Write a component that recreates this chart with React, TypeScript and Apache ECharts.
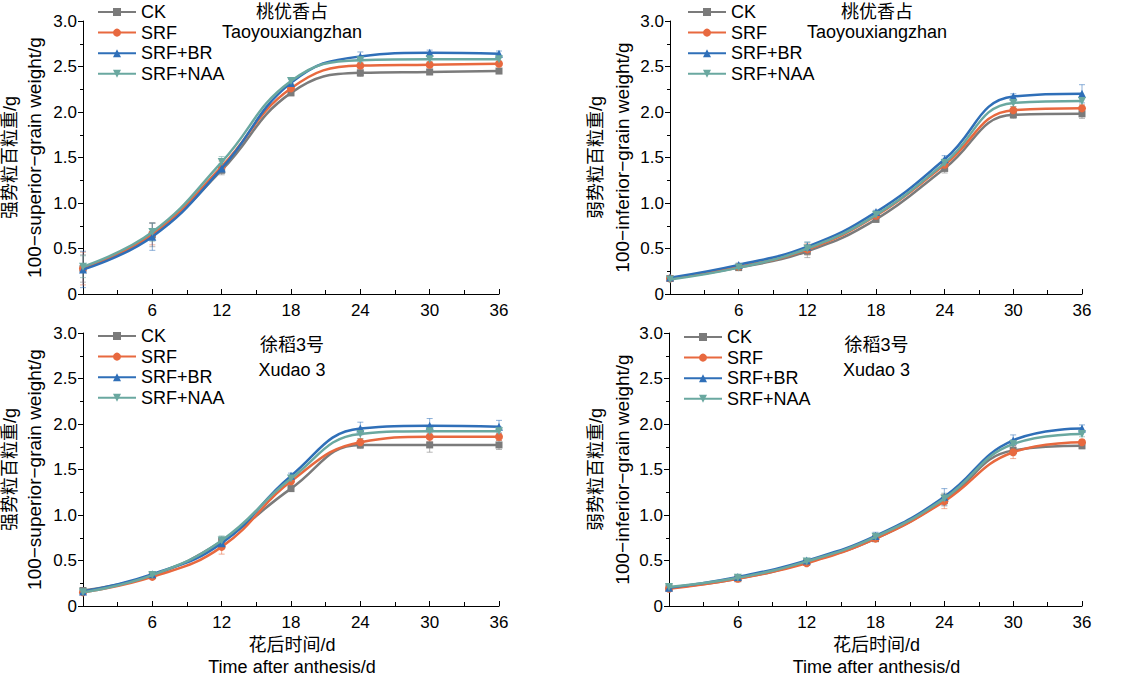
import React, { useEffect, useRef } from "react";
import * as echarts from "echarts";

const days = [0, 6, 12, 18, 24, 30, 36];
const treatments = ["CK", "SRF", "SRF+BR", "SRF+NAA"];
const colors = ["#7b7b7b", "#e8693f", "#2f6fb8", "#6aa8a0"];
const yTicks = [0, 0.5, 1.0, 1.5, 2.0, 2.5, 3.0];

// 桃优香占 superior grains
const taoSupCK = [0.28, 0.65, 1.36, 2.21, 2.43, 2.44, 2.45];
const taoSupSRF = [0.28, 0.66, 1.4, 2.26, 2.51, 2.52, 2.53];
const taoSupBR = [0.27, 0.63, 1.38, 2.32, 2.61, 2.65, 2.64];
const taoSupNAA = [0.3, 0.68, 1.45, 2.34, 2.57, 2.58, 2.58];
const taoSupErrCK = [0.15, 0.13, 0.05, 0.03, 0.04, 0.03, 0.02];
const taoSupErrSRF = [0.18, 0.12, 0.06, 0.04, 0.03, 0.03, 0.02];
const taoSupErrBR = [0.2, 0.15, 0.05, 0.04, 0.05, 0.03, 0.03];
const taoSupErrNAA = [0.12, 0.1, 0.06, 0.03, 0.03, 0.03, 0.02];

// 桃优香占 inferior grains
const taoInfCK = [0.17, 0.29, 0.47, 0.82, 1.38, 1.97, 1.98];
const taoInfSRF = [0.17, 0.3, 0.49, 0.86, 1.42, 2.02, 2.04];
const taoInfBR = [0.18, 0.32, 0.52, 0.9, 1.48, 2.17, 2.2];
const taoInfNAA = [0.16, 0.29, 0.5, 0.87, 1.44, 2.1, 2.12];
const taoInfErrCK = [0.02, 0.02, 0.07, 0.03, 0.05, 0.04, 0.05];
const taoInfErrSRF = [0.02, 0.02, 0.06, 0.03, 0.04, 0.04, 0.04];
const taoInfErrBR = [0.02, 0.02, 0.05, 0.02, 0.04, 0.03, 0.1];
const taoInfErrNAA = [0.02, 0.02, 0.07, 0.03, 0.05, 0.04, 0.05];

// 徐稻3号 superior grains
const xuSupCK = [0.17, 0.34, 0.71, 1.29, 1.77, 1.77, 1.77];
const xuSupSRF = [0.15, 0.32, 0.65, 1.37, 1.8, 1.86, 1.86];
const xuSupBR = [0.16, 0.35, 0.69, 1.43, 1.95, 1.98, 1.97];
const xuSupNAA = [0.15, 0.34, 0.72, 1.4, 1.89, 1.92, 1.92];
const xuSupErrCK = [0.03, 0.02, 0.05, 0.03, 0.04, 0.08, 0.05];
const xuSupErrSRF = [0.02, 0.02, 0.08, 0.04, 0.04, 0.05, 0.04];
const xuSupErrBR = [0.02, 0.02, 0.06, 0.03, 0.07, 0.08, 0.07];
const xuSupErrNAA = [0.02, 0.02, 0.05, 0.03, 0.05, 0.05, 0.05];

// 徐稻3号 inferior grains
const xuInfCK = [0.2, 0.3, 0.48, 0.74, 1.16, 1.71, 1.76];
const xuInfSRF = [0.19, 0.3, 0.47, 0.74, 1.15, 1.69, 1.8];
const xuInfBR = [0.2, 0.32, 0.5, 0.77, 1.2, 1.82, 1.95];
const xuInfNAA = [0.21, 0.31, 0.49, 0.76, 1.18, 1.78, 1.89];
const xuInfErrCK = [0.02, 0.02, 0.02, 0.03, 0.06, 0.05, 0.03];
const xuInfErrSRF = [0.02, 0.02, 0.02, 0.03, 0.08, 0.07, 0.03];
const xuInfErrBR = [0.02, 0.02, 0.02, 0.04, 0.09, 0.06, 0.04];
const xuInfErrNAA = [0.02, 0.02, 0.02, 0.03, 0.06, 0.05, 0.03];

const panels = [
  {
    values: [taoSupCK, taoSupSRF, taoSupBR, taoSupNAA],
    errors: [taoSupErrCK, taoSupErrSRF, taoSupErrBR, taoSupErrNAA],
    cultivar: ["桃优香占", "Taoyouxiangzhan"],
    yName: ["强势粒百粒重/g", "100−superior−grain weight/g"],
  },
  {
    values: [taoInfCK, taoInfSRF, taoInfBR, taoInfNAA],
    errors: [taoInfErrCK, taoInfErrSRF, taoInfErrBR, taoInfErrNAA],
    cultivar: ["桃优香占", "Taoyouxiangzhan"],
    yName: ["弱势粒百粒重/g", "100−inferior−grain weight/g"],
  },
  {
    values: [xuSupCK, xuSupSRF, xuSupBR, xuSupNAA],
    errors: [xuSupErrCK, xuSupErrSRF, xuSupErrBR, xuSupErrNAA],
    cultivar: ["徐稻3号", "Xudao 3"],
    yName: ["强势粒百粒重/g", "100−superior−grain weight/g"],
  },
  {
    values: [xuInfCK, xuInfSRF, xuInfBR, xuInfNAA],
    errors: [xuInfErrCK, xuInfErrSRF, xuInfErrBR, xuInfErrNAA],
    cultivar: ["徐稻3号", "Xudao 3"],
    yName: ["弱势粒百粒重/g", "100−inferior−grain weight/g"],
  },
];

const FONT = "'Liberation Sans', 'Noto Sans CJK SC', sans-serif";

// panel boxes in pixels
const boxes = [
  { left: 83, top: 21, width: 416, legendLeft: 97, legendTop: 3, yName: [10, 34] },
  { left: 670, top: 21, width: 412, legendLeft: 687, legendTop: 3, yName: [596, 622] },
  { left: 83, top: 333, width: 416, legendLeft: 97, legendTop: 327, yName: [10, 34] },
  { left: 669, top: 333, width: 413, legendLeft: 683, legendTop: 328, yName: [596, 622] },
];
const PLOT_H = 273;

const App: React.FC = () => {
  const chartRef = useRef<HTMLDivElement>(null);

  useEffect(() => {
    document.body.style.margin = "0";
    if (!chartRef.current) return;
    const chart = echarts.init(chartRef.current, undefined, { renderer: "svg" });

    const grid: any[] = [];
    const xAxis: any[] = [];
    const yAxis: any[] = [];
    const legend: any[] = [];
    const series: any[] = [];
    const graphic: any[] = [];

    panels.forEach((panel, p) => {
      const b = boxes[p];
      grid.push({ left: b.left, top: b.top, width: b.width, height: PLOT_H });
      xAxis.push({
        type: "value",
        gridIndex: p,
        min: 0,
        max: 36,
        interval: 6,
        axisLine: { lineStyle: { color: "#000", width: 1 } },
        axisTick: { inside: true, length: 5, lineStyle: { color: "#000" } },
        minorTick: { show: true, splitNumber: 2, length: 4, lineStyle: { color: "#000" } },
        splitLine: { show: false },
        axisLabel: {
          color: "#000",
          fontSize: 17,
          fontFamily: FONT,
          margin: 8,
          formatter: (v: number) => (v === 0 ? "" : String(v)),
        },
      });
      yAxis.push({
        type: "value",
        gridIndex: p,
        min: yTicks[0],
        max: yTicks[yTicks.length - 1],
        interval: 0.5,
        axisLine: { show: true, lineStyle: { color: "#000", width: 1 } },
        axisTick: { show: true, inside: false, length: 5, lineStyle: { color: "#000" } },
        minorTick: { show: true, splitNumber: 2, length: 3, lineStyle: { color: "#000" } },
        splitLine: { show: false },
        axisLabel: {
          color: "#000",
          fontSize: 17,
          fontFamily: FONT,
          margin: 6,
          formatter: (v: number) => (v === 0 ? "0" : v.toFixed(1)),
        },
      });
      legend.push({
        orient: "vertical",
        left: b.legendLeft,
        top: b.legendTop,
        padding: 0,
        itemWidth: 38,
        itemHeight: 10,
        itemGap: 2.6,
        data: treatments,
        textStyle: { color: "#000", fontSize: 18, lineHeight: 17, fontFamily: FONT },
      });

      treatments.forEach((t, s) => {
        const color = colors[s];
        series.push({
          type: "custom",
          xAxisIndex: p,
          yAxisIndex: p,
          z: 1,
          silent: true,
          encode: { x: 0, y: 1 },
          data: days.map((d, i) => [d, panel.values[s][i], panel.errors[s][i]]),
          renderItem: (_params: any, api: any) => {
            const x = api.value(0);
            const y = api.value(1);
            const e = api.value(2);
            const hi = api.coord([x, y + e]);
            const lo = api.coord([x, y - e]);
            const cap = 3;
            const style = { stroke: color, lineWidth: 1, opacity: 0.55 };
            return {
              type: "group",
              children: [
                { type: "line", shape: { x1: hi[0], y1: hi[1], x2: lo[0], y2: lo[1] }, style },
                { type: "line", shape: { x1: hi[0] - cap, y1: hi[1], x2: hi[0] + cap, y2: hi[1] }, style },
                { type: "line", shape: { x1: lo[0] - cap, y1: lo[1], x2: lo[0] + cap, y2: lo[1] }, style },
              ],
            };
          },
        });
        series.push({
          name: t,
          type: "line",
          xAxisIndex: p,
          yAxisIndex: p,
          z: 2 + s,
          data: days.map((d, i) => [d, panel.values[s][i]]),
          smooth: 0.45,
          symbol: s === 0 ? "rect" : s === 1 ? "circle" : "triangle",
          symbolRotate: s === 3 ? 180 : 0,
          symbolSize: s === 0 ? 7 : 8,
          itemStyle: { color },
          lineStyle: { color, width: 2.5 },
        });
      });

      const cx = b.left + b.width / 2 + 1;
      const base = { fill: "#000", fontFamily: FONT, fontSize: 18, textAlign: "center", textVerticalAlign: "middle" };
      graphic.push(
        { type: "text", x: cx, y: p < 2 ? b.top - 9 : b.top + 12, style: { ...base, text: panel.cultivar[0] } },
        { type: "text", x: cx, y: p < 2 ? b.top + 11 : b.top + 37, style: { ...base, text: panel.cultivar[1] } }
      );
      const cy = b.top + PLOT_H / 2;
      graphic.push(
        { type: "text", x: b.yName[0], y: cy, rotation: Math.PI / 2, style: { ...base, text: panel.yName[0] } },
        { type: "text", x: b.yName[1], y: cy, rotation: Math.PI / 2, style: { ...base, fontSize: 19, text: panel.yName[1] } }
      );
      if (p >= 2) {
        graphic.push(
          { type: "text", x: cx, y: 645, style: { ...base, text: "花后时间/d" } },
          { type: "text", x: cx, y: 667, style: { ...base, text: "Time after anthesis/d" } }
        );
      }
    });

    chart.setOption({
      animation: false,
      backgroundColor: "#fff",
      grid,
      xAxis,
      yAxis,
      legend,
      series,
      graphic,
    });

    return () => {
      chart.dispose();
    };
  }, []);

  return <div ref={chartRef} style={{ width: 1134, height: 678 }} />;
};

export default App;
